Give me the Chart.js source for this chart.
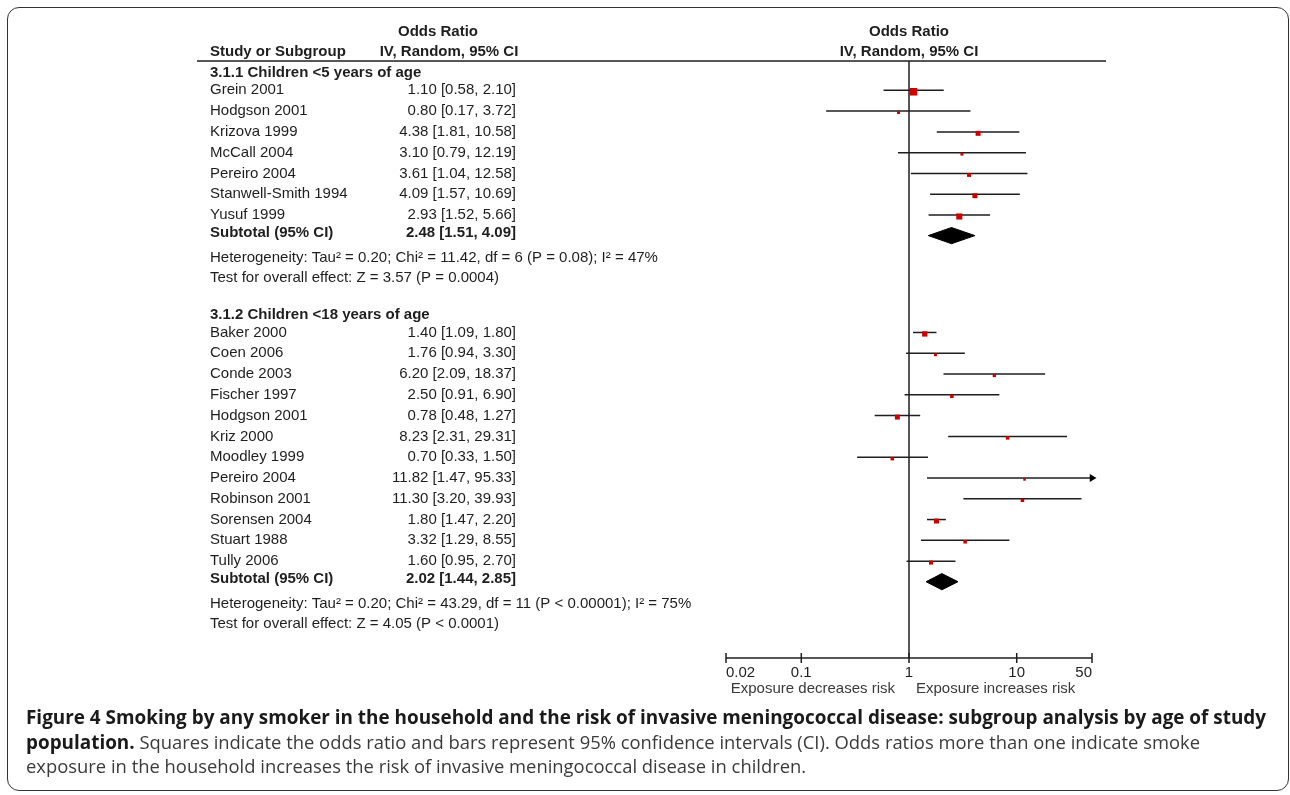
<!DOCTYPE html>
<html>
<head>
<meta charset="utf-8">
<title>Figure 4 - forest plot</title>
<script src="https://cdn.jsdelivr.net/npm/chart.js@4.4.1/dist/chart.umd.min.js"></script>
<style>
  html, body { margin: 0; padding: 0; background: #fff; }
  body { width: 1290px; height: 795px; position: relative; overflow: hidden; }
  #frame {
    position: absolute; left: 7px; top: 7px; width: 1282px; height: 784px;
    border: 1.5px solid #333; border-radius: 12px; box-sizing: border-box;
  }
  #forest { position: absolute; left: 0; top: 0; }
  #caption {
    position: absolute; left: 26px; top: 705px; white-space: nowrap;
    font-family: "Open Sans", sans-serif; font-size: 18.4px; line-height: 23.5px; color: #3a3a3a;
  }
  #caption b { color: #1a1a1a; font-weight: 700; font-size: 18.9px; }
</style>
</head>
<body>
<div id="frame"></div>
<canvas id="forest" width="1290" height="795"></canvas>
<div id="caption"><b>Figure 4 Smoking by any smoker in the household and the risk of invasive meningococcal disease: subgroup analysis by age of study</b><br><b>population.</b> Squares indicate the odds ratio and bars represent 95% confidence intervals (CI). Odds ratios more than one indicate smoke<br>exposure in the household increases the risk of invasive meningococcal disease in children.</div>

<script>
// --- data ---
const groupTitles = ['3.1.1 Children <5 years of age', '3.1.2 Children <18 years of age'];

const studiesG1 = ['Grein 2001', 'Hodgson 2001', 'Krizova 1999', 'McCall 2004', 'Pereiro 2004', 'Stanwell-Smith 1994', 'Yusuf 1999'];
const orG1   = [1.10, 0.80, 4.38, 3.10, 3.61, 4.09, 2.93];
const lowG1  = [0.58, 0.17, 1.81, 0.79, 1.04, 1.57, 1.52];
const highG1 = [2.10, 3.72, 10.58, 12.19, 12.58, 10.69, 5.66];
const weightG1 = [32, 5, 14, 5, 9, 14, 21];   // estimated from square sizes
const subtotalG1 = [2.48, 1.51, 4.09];

const studiesG2 = ['Baker 2000', 'Coen 2006', 'Conde 2003', 'Fischer 1997', 'Hodgson 2001', 'Kriz 2000', 'Moodley 1999', 'Pereiro 2004', 'Robinson 2001', 'Sorensen 2004', 'Stuart 1988', 'Tully 2006'];
const orG2   = [1.40, 1.76, 6.20, 2.50, 0.78, 8.23, 0.70, 11.82, 11.30, 1.80, 3.32, 1.60];
const lowG2  = [1.09, 0.94, 2.09, 0.91, 0.48, 2.31, 0.33, 1.47, 3.20, 1.47, 1.29, 0.95];
const highG2 = [1.80, 3.30, 18.37, 6.90, 1.27, 29.31, 1.50, 95.33, 39.93, 2.20, 8.55, 2.70];
const weightG2 = [16, 5, 6, 7, 14, 7, 7, 3.5, 7, 14, 7, 9];
const subtotalG2 = [2.02, 1.44, 2.85];

const hetTexts = [
  'Heterogeneity: Tau\u00b2 = 0.20; Chi\u00b2 = 11.42, df = 6 (P = 0.08); I\u00b2 = 47%',
  'Heterogeneity: Tau\u00b2 = 0.20; Chi\u00b2 = 43.29, df = 11 (P < 0.00001); I\u00b2 = 75%'
];
const testTexts = [
  'Test for overall effect: Z = 3.57 (P = 0.0004)',
  'Test for overall effect: Z = 4.05 (P < 0.0001)'
];

const tickValues = [0.02, 0.1, 1, 10, 50];
const tickLabels = ['0.02', '0.1', '1', '10', '50'];
const favourLabels = ['Exposure decreases risk', 'Exposure increases risk'];

// --- layout ---
const X_MIN = 0.02, X_MAX = 50;
const Y_MAX = 28.72;          // rows between header rule and axis
const INK = '#1e1e1e';
const RED = '#cc0000';
const FONT = '"Liberation Sans", Arial, sans-serif';
const FS = '15px ';
const NAME_X = 210, VALUE_X = 516;

const groups = [
  { title: groupTitles[0], names: studiesG1, or: orG1, lo: lowG1, hi: highG1, w: weightG1, sub: subtotalG1, het: hetTexts[0], test: testTexts[0] },
  { title: groupTitles[1], names: studiesG2, or: orG2, lo: lowG2, hi: highG2, w: weightG2, sub: subtotalG2, het: hetTexts[1], test: testTexts[1] }
];

// row positions (in row units)
let r = 0.58;
groups.forEach(g => {
  g.headerRow = r;
  g.rows = g.names.map((_, i) => r + 0.83 + i);
  r = g.rows[g.rows.length - 1] + 0.87; g.subRow = r;
  r += 1.18; g.hetRow = r;
  r += 0.96; g.testRow = r;
  r += 1.81;
});

const fmt = v => v.toFixed(2);
const ciText = (e, l, h) => fmt(e) + ' [' + fmt(l) + ', ' + fmt(h) + ']';

// --- datasets ---
const squarePts = [], squareR = [], arrowPts = [], datasets = [];
groups.forEach(g => {
  g.names.forEach((n, i) => {
    const y = g.rows[i];
    squarePts.push({ x: g.or[i], y: y + 0.07 });
    squareR.push(0.94 * Math.sqrt(g.w[i]));
    datasets.push({
      type: 'line', label: n, order: 2,
      data: [{ x: Math.max(g.lo[i], X_MIN), y }, { x: Math.min(g.hi[i], X_MAX), y }],
      borderColor: INK, borderWidth: 1.5, pointRadius: 0, showLine: true, fill: false
    });
    if (g.hi[i] > X_MAX) arrowPts.push({ x: X_MAX, y });
  });
  const [est, lo, hi] = g.sub;
  const yd = g.subRow + 0.12, h = 0.39;
  datasets.push({
    type: 'line', label: 'Subtotal', order: 1,
    data: [{ x: lo, y: yd }, { x: est, y: yd - h }, { x: hi, y: yd }, { x: est, y: yd + h }, { x: lo, y: yd }],
    borderColor: '#000', backgroundColor: '#000', borderWidth: 1, pointRadius: 0,
    showLine: true, fill: 'shape', tension: 0
  });
});
datasets.push({
  type: 'scatter', label: 'Odds ratio', order: 0, data: squarePts,
  pointStyle: 'rect', pointRadius: squareR, backgroundColor: RED, borderWidth: 0
});
datasets.push({
  type: 'scatter', label: 'Off scale', order: 0, data: arrowPts, clip: false,
  pointStyle: 'triangle', rotation: 90, pointRadius: 4.5, backgroundColor: '#000', borderWidth: 0
});

function hline(ctx, x0, x1, y) { ctx.beginPath(); ctx.moveTo(x0, y); ctx.lineTo(x1, y); ctx.stroke(); }
function vline(ctx, x, y0, y1) { ctx.beginPath(); ctx.moveTo(x, y0); ctx.lineTo(x, y1); ctx.stroke(); }

const forestDecor = {
  id: 'forestDecor',
  beforeDatasetsDraw(chart) {
    const { ctx, chartArea: a, scales: { x } } = chart;
    ctx.save();
    ctx.strokeStyle = INK;
    ctx.lineWidth = 1.5;
    hline(ctx, 197, a.right + 14, a.top);
    vline(ctx, x.getPixelForValue(1), a.top, a.bottom);
    ctx.restore();
  },
  afterDraw(chart) {
    const { ctx, chartArea: a, scales: { x, y } } = chart;
    const x1 = x.getPixelForValue(1);
    ctx.save();
    ctx.fillStyle = INK;
    ctx.strokeStyle = INK;
    ctx.textBaseline = 'middle';

    // column headers
    ctx.font = 'bold ' + FS + FONT;
    ctx.textAlign = 'center';
    ctx.fillText('Odds Ratio', 438, a.top - 29);
    ctx.fillText('IV, Random, 95% CI', 449, a.top - 9);
    ctx.fillText('Odds Ratio', x1, a.top - 29);
    ctx.fillText('IV, Random, 95% CI', x1, a.top - 9);
    ctx.textAlign = 'left';
    ctx.fillText('Study or Subgroup', NAME_X, a.top - 9);

    groups.forEach(g => {
      ctx.font = 'bold ' + FS + FONT;
      ctx.textAlign = 'left';
      ctx.fillText(g.title, NAME_X, y.getPixelForValue(g.headerRow));
      ctx.font = FS + FONT;
      g.names.forEach((n, i) => {
        const py = y.getPixelForValue(g.rows[i]);
        ctx.textAlign = 'left';
        ctx.fillText(n, NAME_X, py);
        ctx.textAlign = 'right';
        ctx.fillText(ciText(g.or[i], g.lo[i], g.hi[i]), VALUE_X, py);
      });
      const ps = y.getPixelForValue(g.subRow);
      ctx.font = 'bold ' + FS + FONT;
      ctx.textAlign = 'left';
      ctx.fillText('Subtotal (95% CI)', NAME_X, ps);
      ctx.textAlign = 'right';
      ctx.fillText(ciText(g.sub[0], g.sub[1], g.sub[2]), VALUE_X, ps);
      ctx.font = FS + FONT;
      ctx.textAlign = 'left';
      ctx.fillText(g.het, NAME_X, y.getPixelForValue(g.hetRow));
      ctx.fillText(g.test, NAME_X, y.getPixelForValue(g.testRow));
    });

    // x axis
    ctx.lineWidth = 1.5;
    hline(ctx, a.left, a.right, a.bottom);
    ctx.font = FS + FONT;
    tickValues.forEach((v, i) => {
      const px = x.getPixelForValue(v);
      vline(ctx, px, a.bottom - 5, a.bottom + 5);
      ctx.textAlign = i === 0 ? 'left' : (i === tickValues.length - 1 ? 'right' : 'center');
      ctx.fillText(tickLabels[i], px, a.bottom + 15);
    });
    ctx.fillStyle = '#3a3a3a';
    ctx.textAlign = 'right';
    ctx.fillText(favourLabels[0], x1 - 14, a.bottom + 31);
    ctx.textAlign = 'left';
    ctx.fillText(favourLabels[1], x1 + 7, a.bottom + 31);
    ctx.restore();
  }
};

new Chart(document.getElementById('forest'), {
  type: 'scatter',
  data: { datasets },
  options: {
    responsive: false,
    animation: false,
    events: [],
    layout: { padding: { left: 726, right: 198, top: 61, bottom: 137 } },
    scales: {
      x: { type: 'logarithmic', min: X_MIN, max: X_MAX, bounds: 'data', display: false },
      y: { type: 'linear', min: 0, max: Y_MAX, reverse: true, bounds: 'data', display: false }
    },
    plugins: {
      legend: { display: false },
      tooltip: { enabled: false },
      title: { display: false }
    }
  },
  plugins: [forestDecor]
});
</script>
</body>
</html>
